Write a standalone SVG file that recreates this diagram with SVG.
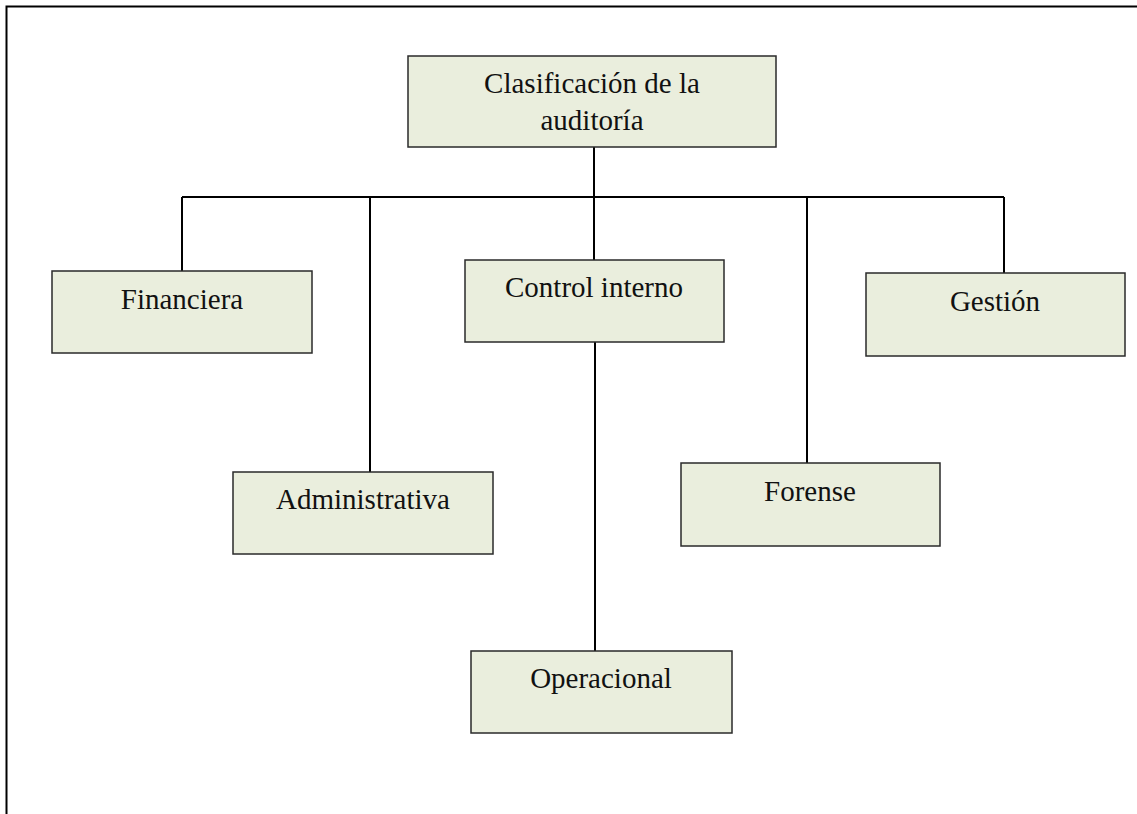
<svg xmlns="http://www.w3.org/2000/svg" width="1137" height="814" viewBox="0 0 1137 814">
  <style>
    .box { fill: #eaeedd; stroke: #2a2a2a; stroke-width: 1.5; }
    .lbl { font-family: "Liberation Serif", "Times New Roman", serif; font-size: 29px; fill: #111; text-anchor: middle; }
    .wire { stroke: #000; stroke-width: 2; fill: none; }
    .frame { stroke: #000; stroke-width: 2; fill: none; }
  </style>
  <rect width="1137" height="814" fill="#fff"/>
  <!-- page frame: top and left edges -->
  <path class="frame" d="M6.5 814 V6.5 H1137"/>

  <g id="connectors">
    <line class="wire" x1="594" y1="147" x2="594" y2="261"/>
    <line class="wire" x1="182" y1="197" x2="1004" y2="197"/>
    <line class="wire" x1="182" y1="197" x2="182" y2="271"/>
    <line class="wire" x1="370" y1="197" x2="370" y2="472"/>
    <line class="wire" x1="807" y1="197" x2="807" y2="463"/>
    <line class="wire" x1="1004" y1="197" x2="1004" y2="273"/>
    <line class="wire" x1="595" y1="342" x2="595" y2="651"/>
  </g>

  <g id="clasificacion">
    <rect class="box" x="408" y="56" width="368" height="91"/>
    <text class="lbl" x="592" y="93">Clasificación de la</text>
    <text class="lbl" x="592" y="130">auditoría</text>
  </g>
  <g id="financiera">
    <rect class="box" x="52" y="271" width="260" height="82"/>
    <text class="lbl" x="182" y="309">Financiera</text>
  </g>
  <g id="control-interno">
    <rect class="box" x="465" y="260" width="259" height="82"/>
    <text class="lbl" x="594" y="297">Control interno</text>
  </g>
  <g id="gestion">
    <rect class="box" x="866" y="273" width="259" height="83"/>
    <text class="lbl" x="995" y="311">Gestión</text>
  </g>
  <g id="administrativa">
    <rect class="box" x="233" y="472" width="260" height="82"/>
    <text class="lbl" x="363" y="509">Administrativa</text>
  </g>
  <g id="forense">
    <rect class="box" x="681" y="463" width="259" height="83"/>
    <text class="lbl" x="810" y="501">Forense</text>
  </g>
  <g id="operacional">
    <rect class="box" x="471" y="651" width="261" height="82"/>
    <text class="lbl" x="601" y="688">Operacional</text>
  </g>
</svg>
